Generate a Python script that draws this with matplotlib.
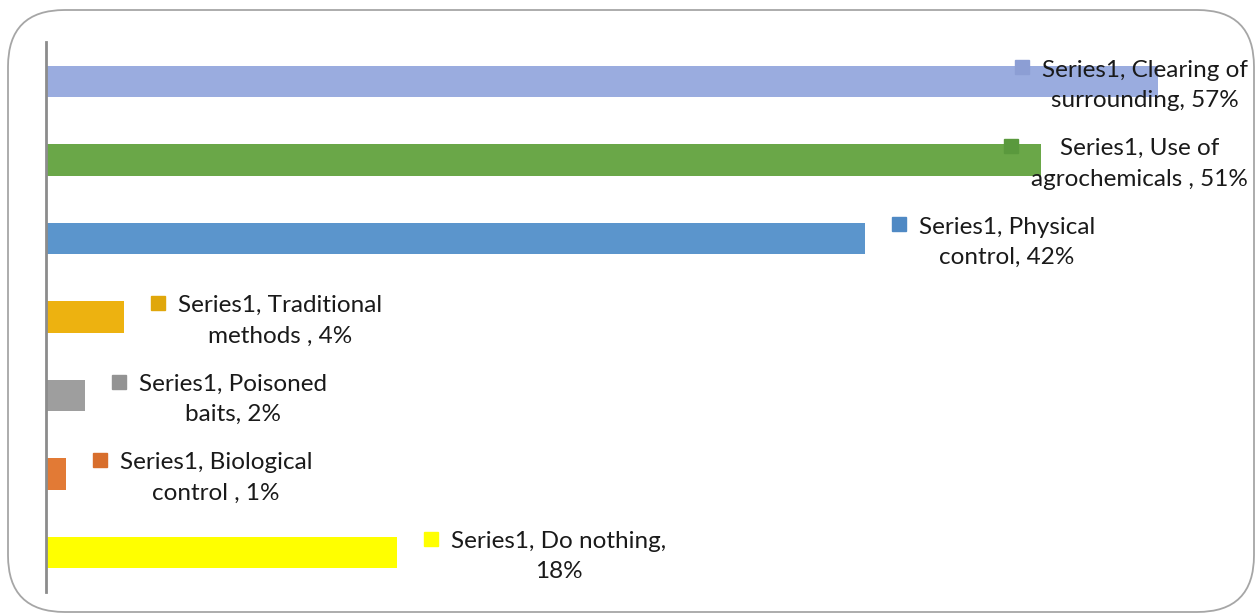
import matplotlib.pyplot as plt
from matplotlib.patches import FancyBboxPatch, Rectangle

categories = ['Clearing of surrounding', 'Use of agrochemicals', 'Physical control',
              'Traditional methods', 'Poisoned baits', 'Biological control', 'Do nothing']
values = [57, 51, 42, 4, 2, 1, 18]
colors = ['#9AACDF', '#6AA748', '#5B95CC', '#EDB210', '#9E9E9E', '#E27A35', '#FFFF00']
key_colors = ['#8C9ED4', '#5A993D', '#4F89C4', '#E0A70B', '#939393', '#D86E2C', '#FFFF00']
label_lines = [('Series1, Clearing of', 'surrounding, 57%'),
               ('Series1, Use of', 'agrochemicals , 51%'),
               ('Series1, Physical', 'control, 42%'),
               ('Series1, Traditional', 'methods , 4%'),
               ('Series1, Poisoned', 'baits, 2%'),
               ('Series1, Biological', 'control , 1%'),
               ('Series1, Do nothing,', '18%')]

W, H = 1260, 616
plt.rcParams['font.family'] = ['Lato', 'DejaVu Sans']
fig = plt.figure(figsize=(W / 100, H / 100), dpi=100)

# rounded outer frame
frame = FancyBboxPatch((8 / W, 4 / H), 1246 / W, 602 / H, boxstyle='round,pad=0,rounding_size=0.045',
                       transform=fig.transFigure, facecolor='white', edgecolor='#A6A6A6', linewidth=1.3,
                       mutation_aspect=W / H, zorder=-5)
fig.add_artist(frame)

ax = fig.add_axes([46 / W, 24 / H, 1170 / W, 550 / H])
ax.patch.set_alpha(0)
ys = list(range(len(values)))
ax.barh(ys, values, height=0.4, color=colors)
ax.set_xlim(0, 60)
ax.set_ylim(len(values) - 0.5, -0.5)
for s in ['top', 'right', 'bottom']:
    ax.spines[s].set_visible(False)
ax.spines['left'].set_color('#8C8C8C')
ax.spines['left'].set_linewidth(2)
ax.set_xticks([])
ax.set_yticks([])

fig.canvas.draw()
renderer = fig.canvas.get_renderer()
right_limit = 1248
for i, (v, lines) in enumerate(zip(values, label_lines)):
    px, py = ax.transData.transform((v, i))
    x0 = px + 54
    t = fig.text(x0 / W, (py - 4) / H, lines[0] + '\n' + lines[1], ha='left', va='center',
                 multialignment='center', fontsize=17.5, color='#1A1A1A', linespacing=1.55,
                 zorder=5)
    bb = t.get_window_extent(renderer)
    if bb.x1 > right_limit:
        x0 -= bb.x1 - right_limit
        t.set_x(x0 / W)
    size = 14
    cy = py + 14
    fig.add_artist(Rectangle(((x0 - 27) / W, (cy - size / 2) / H), size / W, size / H,
                             transform=fig.transFigure, color=key_colors[i], zorder=4))

fig.savefig('out.png', dpi=100)
